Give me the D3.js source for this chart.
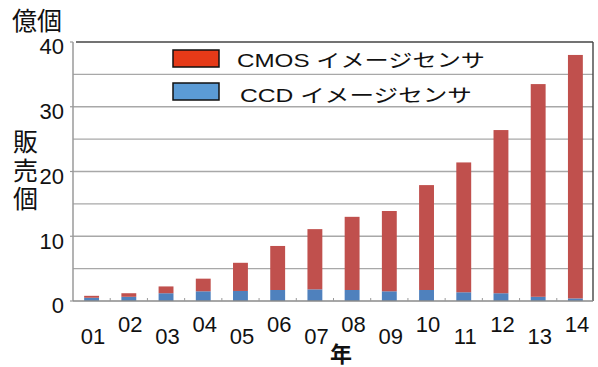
<!DOCTYPE html>
<html>
<head>
<meta charset="utf-8">
<script src="https://cdn.jsdelivr.net/npm/d3@7"></script>
<style>
  html, body { margin: 0; padding: 0; background: #fff; }
  svg { display: block; }
  text { font-family: "Liberation Sans", Arial, "Noto Sans CJK JP", sans-serif; fill: #111; }
  .jp { font-family: "Noto Sans CJK JP", "Liberation Sans", sans-serif; }
  .vertical { writing-mode: vertical-rl; }
</style>
</head>
<body>
<svg id="chart" width="598" height="367"></svg>
<script>
// Sales of image sensors by year (units: 億個)
const years = ["01","02","03","04","05","06","07","08","09","10","11","12","13","14"];
const ccd  = [0.5, 0.65, 1.2, 1.5, 1.55, 1.7, 1.8, 1.7, 1.5, 1.7, 1.35, 1.2, 0.65, 0.4];
const cmos = [0.3, 0.55, 1.05, 1.95, 4.35, 6.8, 9.3, 11.3, 12.4, 16.2, 20.05, 25.2, 32.85, 37.6];
const yTicks = [0, 10, 20, 30, 40];
const gridValues = [5, 10, 15, 20, 25, 30, 35];
const seriesNames = ["CMOS イメージセンサ", "CCD イメージセンサ"];

const svg = d3.select("#chart");
const plotLeft = 73, plotRight = 594, plotTop = 42, plotBottom = 301;

const x = d3.scaleBand().domain(years).range([plotLeft, plotRight])
  .paddingInner(0.6).paddingOuter(0.3);
const y = d3.scaleLinear().domain([0, 40]).range([plotBottom, plotTop]);

// horizontal gridlines
svg.append("g").selectAll("line").data(gridValues).join("line")
  .attr("x1", plotLeft).attr("x2", 593)
  .attr("y1", d => y(d)).attr("y2", d => y(d))
  .attr("stroke", "#a8a8a8").attr("stroke-width", 1.4);

// left axis line
svg.append("line").attr("x1", plotLeft).attr("x2", plotLeft).attr("y1", plotTop).attr("y2", plotBottom)
  .attr("stroke", "#9a9a9a").attr("stroke-width", 1.5);
// small left ticks
svg.append("g").selectAll("line").data(yTicks).join("line")
  .attr("x1", plotLeft - 3).attr("x2", plotLeft).attr("y1", d => y(d)).attr("y2", d => y(d))
  .attr("stroke", "#9a9a9a").attr("stroke-width", 1.2);

// frame top and right
svg.append("line").attr("x1", 76).attr("x2", 593).attr("y1", plotTop).attr("y2", plotTop)
  .attr("stroke", "#444").attr("stroke-width", 1.6);
svg.append("line").attr("x1", 593).attr("x2", 593).attr("y1", plotTop).attr("y2", plotBottom)
  .attr("stroke", "#444").attr("stroke-width", 1.4);

// stacked bars
const stackData = years.map((yr, i) => ({ year: yr, ccd: ccd[i], cmos: cmos[i] }));
const stacked = d3.stack().keys(["ccd", "cmos"])(stackData);
const barColors = { ccd: "#4f81bd", cmos: "#c0504d" };
svg.append("g").selectAll("g").data(stacked).join("g")
  .attr("fill", d => barColors[d.key])
  .selectAll("rect").data(d => d).join("rect")
  .attr("x", d => x(d.data.year))
  .attr("width", x.bandwidth())
  .attr("y", d => y(d[1]))
  .attr("height", d => y(d[0]) - y(d[1]));

// bottom axis line with category ticks
svg.append("line").attr("x1", plotLeft).attr("x2", 593).attr("y1", plotBottom).attr("y2", plotBottom)
  .attr("stroke", "#8a8a8a").attr("stroke-width", 1.5);
svg.append("g").selectAll("line").data(years.slice(1)).join("line")
  .attr("x1", d => x(d) - x.step() * x.paddingInner() / 2)
  .attr("x2", d => x(d) - x.step() * x.paddingInner() / 2)
  .attr("y1", plotBottom - 3).attr("y2", plotBottom)
  .attr("stroke", "#9a9a9a").attr("stroke-width", 1);

// y tick labels
svg.append("g").selectAll("text").data(yTicks).join("text")
  .attr("x", 64).attr("y", d => y(d) + 12.4)
  .attr("text-anchor", "end").attr("font-size", 22)
  .text(d => d);

// x labels, staggered
svg.append("g").selectAll("text").data(years).join("text")
  .attr("x", d => x(d) + x.bandwidth() / 2 + 1.5)
  .attr("y", (d, i) => i % 2 === 0 ? 343.5 : 331.7)
  .attr("text-anchor", "middle").attr("font-size", 22)
  .text(d => d);

// axis titles
svg.append("text").attr("class", "jp").attr("x", 12).attr("y", 30)
  .attr("font-size", 25).text("億個");
// vertical y-axis title
svg.append("text").attr("class", "jp vertical")
  .attr("x", 25.5).attr("y", 129)
  .attr("font-size", 25).attr("letter-spacing", 3.5)
  .text("販売個");
svg.append("text").attr("class", "jp").attr("x", 341).attr("y", 362)
  .attr("text-anchor", "middle").attr("font-size", 22).attr("font-weight", "bold")
  .text("年");

// legend
const legend = [
  { name: seriesNames[0], fill: "#e63a18", sy: 50, ty: 67.3, tx: 237, tl: 248 },
  { name: seriesNames[1], fill: "#5b9bd5", sy: 83, ty: 101.5, tx: 240, tl: 232 }
];
const lg = svg.append("g").selectAll("g").data(legend).join("g");
lg.append("rect").attr("x", 173).attr("y", d => d.sy).attr("width", 46).attr("height", 17)
  .attr("fill", d => d.fill).attr("stroke", "#111").attr("stroke-width", 1.5);
lg.append("text").attr("x", d => d.tx).attr("y", d => d.ty)
  .attr("font-size", 18.5).attr("textLength", d => d.tl).attr("lengthAdjust", "spacingAndGlyphs")
  .text(d => d.name);
</script>
</body>
</html>
